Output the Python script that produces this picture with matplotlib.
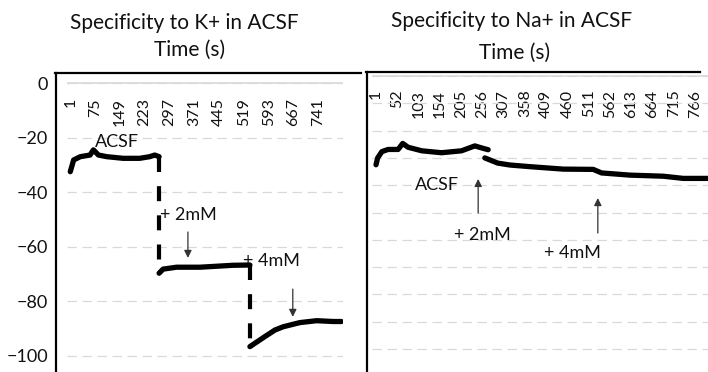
import matplotlib

matplotlib.use("Agg")
import matplotlib.pyplot as plt  # noqa: E402
from matplotlib.lines import Line2D  # noqa: E402

plt.rcParams["font.family"] = ["Lato", "DejaVu Sans"]

# K+ panel: electrode potential (mV) vs time sample, one list per condition
k_acsf_t = [1, 11, 31, 60, 70, 85, 110, 159, 208, 238, 253, 266]
k_acsf_mv = [-32.5, -28.2, -27.0, -26.4, -24.5, -26.4, -27.0, -27.6, -27.6, -27.0, -26.4, -27.0]
k_2mm_t = [266, 278, 318, 388, 486, 537]
k_2mm_mv = [-69.7, -68.2, -67.5, -67.5, -66.8, -66.7]
k_4mm_t = [537, 582, 612, 637, 686, 736, 786, 810]
k_4mm_mv = [-96.6, -92.9, -90.5, -89.3, -87.8, -87.1, -87.4, -87.4]

# Na+ panel
na_acsf_t = [1, 5, 15, 30, 54, 65, 78, 111, 158, 206, 238, 258, 270]
na_acsf_mv = [-32.5, -30.0, -27.7, -26.9, -26.9, -24.7, -26.1, -27.4, -28.1, -27.4, -25.6, -26.5, -27.0]
na_after_t = [262, 293, 322, 370, 450, 522, 542, 610, 690, 738, 794, 815]
na_after_mv = [-30.0, -31.9, -32.6, -33.2, -34.1, -34.2, -35.5, -36.3, -36.7, -37.5, -37.5, -37.5]

k_xticks = list(range(1, 742, 74))
na_xticks = list(range(1, 767, 51))
k_yticks = [0, -20, -40, -60, -80, -100]
na_yticks = [0, -10, -20, -30, -40, -50, -60, -70, -80, -90, -100]

W, H = 708, 372
TXT = "#111111"
GRID = "#d9d9d9"


def fx(px):
    return px / W


def fy(py):
    return 1 - py / H


def style_axes(ax, xticks, yticks, label_pad):
    for s in ax.spines.values():
        s.set_visible(False)
    ax.xaxis.tick_top()
    ax.tick_params(axis="x", length=0, pad=label_pad)
    ax.set_xticks(xticks)
    ax.set_xticklabels([str(t) for t in xticks], rotation=90, va="top",
                       fontsize=11.5, color=TXT)
    ax.set_yticks(yticks)
    ax.yaxis.grid(True, color=GRID, lw=0.9, linestyle=(0, (7.5, 4.5)))
    ax.axhline(0, color=GRID, lw=1.2, zorder=1)
    ax.set_axisbelow(True)


def draw_trace(ax, segments, connect):
    for i, (t, mv) in enumerate(segments):
        ax.plot(t, mv, color="black", lw=3.8, solid_capstyle="round",
                solid_joinstyle="round", zorder=3)
        if connect and i > 0:
            prev_t, prev_mv = segments[i - 1]
            ax.plot([prev_t[-1], t[0]], [prev_mv[-1], mv[0]], color="black",
                    lw=3.0, linestyle=(0, (3.6, 3.4)), dash_capstyle="butt",
                    zorder=3)


def arrow(ax, x, y0, y1):
    ax.annotate("", xy=(x, y1), xytext=(x, y0),
                arrowprops=dict(arrowstyle="-|>", color="#333333", lw=0.9,
                                mutation_scale=11, shrinkA=0, shrinkB=0))


fig = plt.figure(figsize=(W / 100, H / 100), dpi=100)

# left: K+
ax1 = fig.add_axes([fx(67), 0, (343 - 67) / W, (372 - 80) / H])
ax1.set_xlim(-8.8, 814.8)
ax1.set_ylim(-105.9, 1.1)
style_axes(ax1, k_xticks, k_yticks, -13)
ax1.tick_params(axis="y", length=0, pad=13.5, labelsize=13, labelcolor=TXT)
draw_trace(ax1, [(k_acsf_t, k_acsf_mv), (k_2mm_t, k_2mm_mv), (k_4mm_t, k_4mm_mv)], True)
ax1.text(141, -21.6, "ACSF", ha="center", va="center", fontsize=13, color=TXT, zorder=4)
ax1.text(269, -48.4, "+ 2mM", ha="left", va="center", fontsize=13, color=TXT, zorder=2)
ax1.text(517, -65.2, "+ 4mM", ha="left", va="center", fontsize=13, color=TXT, zorder=2)
arrow(ax1, 352, -54.6, -64.1)
arrow(ax1, 665, -75.5, -85.7)

# right: Na+
ax2 = fig.add_axes([fx(372), 0, (717.5 - 372) / W, (372 - 73) / H])
ax2.set_xlim(-8.6, 820)
ax2.set_ylim(-108.4, 1.1)
style_axes(ax2, na_xticks, na_yticks, -12)
ax2.tick_params(axis="y", length=0, labelleft=False)
draw_trace(ax2, [(na_acsf_t, na_acsf_mv), (na_after_t, na_after_mv)], False)
ax2.text(147, -39.9, "ACSF", ha="center", va="center", fontsize=13, color=TXT)
ax2.text(255, -58.2, "+ 2mM", ha="center", va="center", fontsize=13, color=TXT)
ax2.text(473, -64.8, "+ 4mM", ha="center", va="center", fontsize=13, color=TXT)
arrow(ax2, 246, -50.2, -37.7)
arrow(ax2, 533, -57.5, -44.7)

# chart borders, cropped at the figure edges
for xs, ys in [((55.5, 55.5), (73, 372)), ((55, 361), (73, 73)),
               ((366.5, 366.5), (72, 372)), ((366, 700), (72, 72))]:
    fig.add_artist(Line2D([fx(x) for x in xs], [fy(y) for y in ys],
                          transform=fig.transFigure, color="black", lw=1.6))

fig.text(fx(184), fy(29.3), "Specificity to K+ in ACSF", ha="center", va="baseline",
         fontsize=15, color=TXT)
fig.text(fx(189.5), fy(56), "Time (s)", ha="center", va="baseline", fontsize=15, color=TXT)
fig.text(fx(512), fy(26.7), "Specificity to Na+ in ACSF", ha="center", va="baseline",
         fontsize=15, color=TXT)
fig.text(fx(515), fy(59.3), "Time (s)", ha="center", va="baseline", fontsize=15, color=TXT)

fig.savefig("out.png", dpi=100)
